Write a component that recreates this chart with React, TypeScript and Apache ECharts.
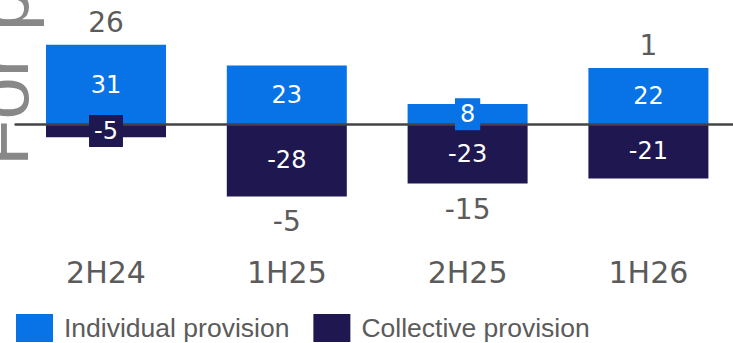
import React, { useEffect, useRef } from "react";
import * as echarts from "echarts";

const categories = ["2H24", "1H25", "2H25", "1H26"];
const individual = [31, 23, 8, 22];
const collective = [-5, -28, -23, -21];
const seriesNames = ["Individual provision", "Collective provision"];

const BLUE = "#0773e6";
const NAVY = "#1e1750";
const GRAY = "#5b5b5b";
const NUMFONT = "'DejaVu Sans', sans-serif";

export default function App() {
  const ref = useRef<HTMLDivElement>(null);

  useEffect(() => {
    if (!ref.current) return;
    const chart = echarts.init(ref.current, undefined, { renderer: "svg" });

    const totals = individual.map((v, i) => v + collective[i]);

    const innerLabels = (vals: number[], color: string) =>
      vals.map((v, i) => ({
        value: [categories[i], v / 2],
        label: {
          show: true,
          position: "inside",
          formatter: String(v),
          color: "#ffffff",
          fontFamily: NUMFONT,
          fontSize: 24,
          lineHeight: 24,
          padding: [4, 5],
          backgroundColor: Math.abs(v) < 10 ? color : "transparent",
        },
      }));

    chart.setOption({
      animation: false,
      graphic: [
        {
          type: "text",
          x: 1,
          y: 166,
          rotation: Math.PI / 2,
          silent: true,
          style: {
            text: "For p",
            fontFamily: "'Liberation Sans', Arial, sans-serif",
            fontSize: 76,
            fill: "#888888",
            textAlign: "left",
            textVerticalAlign: "middle",
          },
        },
      ],
      legend: {
        data: seriesNames,
        left: 11,
        top: 308,
        icon: "rect",
        itemWidth: 37,
        itemHeight: 28,
        itemGap: 24,
        selectedMode: false,
        textStyle: {
          fontFamily: "'Liberation Sans', Arial, sans-serif",
          fontSize: 26.5,
          lineHeight: 30,
          color: GRAY,
          padding: [0, 0, 0, 6],
        },
      },
      grid: { left: 15.6, top: 21.7, width: 723.2, height: 205.6, containLabel: false },
      xAxis: [
        {
          type: "category",
          data: categories,
          position: "bottom",
          axisLine: { show: false, onZero: false },
          axisTick: { show: false },
          axisLabel: {
            margin: 30,
            fontFamily: NUMFONT,
            fontSize: 30,
            color: GRAY,
          },
        },
        {
          type: "category",
          data: categories,
          position: "top",
          z: 3,
          axisLine: { show: true, onZero: true, lineStyle: { color: "#444444", width: 2.5 } },
          axisTick: { show: false },
          axisLabel: { show: false },
        },
      ],
      yAxis: {
        type: "value",
        min: -40,
        max: 40,
        interval: 40,
        axisLine: { show: false },
        axisTick: { show: false },
        axisLabel: { show: false },
        splitLine: { show: false },
      },
      series: [
        {
          name: seriesNames[0],
          type: "bar",
          stack: "p",
          barWidth: 120,
          z: 2,
          itemStyle: { color: BLUE },
          data: individual,
        },
        {
          name: seriesNames[1],
          type: "bar",
          stack: "p",
          barWidth: 120,
          z: 2,
          itemStyle: { color: NAVY },
          data: collective,
        },
        {
          type: "scatter",
          z: 4,
          silent: true,
          symbolSize: 1,
          itemStyle: { color: "transparent", opacity: 1 },
          data: [...innerLabels(individual, BLUE), ...innerLabels(collective, NAVY)],
        },
        {
          type: "scatter",
          z: 4,
          silent: true,
          symbolSize: 1,
          itemStyle: { color: "transparent", opacity: 1 },
          data: totals.map((t, i) => ({
            value: [categories[i], t >= 0 ? individual[i] : collective[i]],
            label: {
              show: true,
              position: t >= 0 ? "top" : "bottom",
              distance: t >= 0 ? 8 : 11,
              formatter: String(t),
              color: GRAY,
              fontFamily: NUMFONT,
              fontSize: 28,
              lineHeight: 28,
            },
          })),
        },
      ],
    });

    return () => chart.dispose();
  }, []);

  return (
    <div
      style={{
        position: "fixed",
        left: 0,
        top: 0,
        width: 733,
        height: 343,
        overflow: "hidden",
        background: "#ffffff",
      }}
    >
      <div ref={ref} style={{ position: "absolute", left: 0, top: 0, width: 745, height: 343 }} />
    </div>
  );
}
